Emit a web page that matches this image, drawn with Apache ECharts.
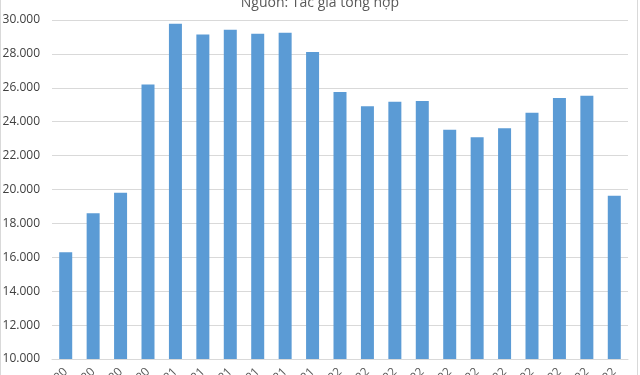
<!DOCTYPE html>
<html>
<head>
<meta charset="utf-8">
<script src="https://cdn.jsdelivr.net/npm/echarts@6/dist/echarts.min.js"></script>
<style>
html,body{margin:0;padding:0;background:#fff;}
#c{width:640px;height:375px;position:relative;}
#bl{position:absolute;left:0;top:0;width:1px;height:375px;background:#d9d9d9;}
#br{position:absolute;left:637px;top:0;width:1px;height:375px;background:#d9d9d9;}
</style>
</head>
<body>
<div id="c"></div>
<div id="bl"></div><div id="br"></div>
<script>
const titleText = "Nguồn: Tác giả tổng hợp";
const categories = ["T9/2020","T10/2020","T11/2020","T12/2020","T7/2021","T8/2021","T9/2021","T10/2021","T11/2021","T12/2021","T1/2022","T2/2022","T3/2022","T4/2022","T5/2022","T6/2022","T7/2022","T8/2022","T9/2022","T10/2022","T11/2022"];
const values = [16300,18600,19810,26200,29780,29150,29430,29190,29250,28110,25750,24910,25180,25220,23530,23080,23610,24530,25400,25530,19630];
const yMin = 10000, yMax = 30000, yStep = 2000;

function fmt(v){
  return String(v).replace(/\B(?=(\d{3})+(?!\d))/g, ".");
}

const chart = echarts.init(document.getElementById('c'));
chart.setOption({
  animation:false,
  backgroundColor:'#ffffff',
  title:{
    text:titleText, left:'center', top:-9,
    textStyle:{fontFamily:'Open Sans', fontSize:14, fontWeight:'normal', color:'#595959'}
  },
  grid:{left:52, right:12, top:20, bottom:16, containLabel:false, outerBoundsMode:'none'},
  xAxis:{
    type:'category', data:categories,
    axisLine:{lineStyle:{color:'#d9d9d9', width:1}},
    axisTick:{show:false},
    axisLabel:{rotate:45, interval:0, margin:11, color:'#595959', fontSize:12, fontFamily:'Open Sans'}
  },
  yAxis:{
    type:'value', min:yMin, max:yMax, interval:yStep,
    axisLine:{show:false}, axisTick:{show:false},
    splitLine:{lineStyle:{color:'#d9d9d9', width:1}},
    axisLabel:{formatter:fmt, margin:12, color:'#404040', fontSize:12, fontFamily:'Open Sans'}
  },
  series:[{
    type:'bar', data:values, barWidth:13,
    itemStyle:{color:'#5b9bd5'}
  }]
});
</script>
</body>
</html>
